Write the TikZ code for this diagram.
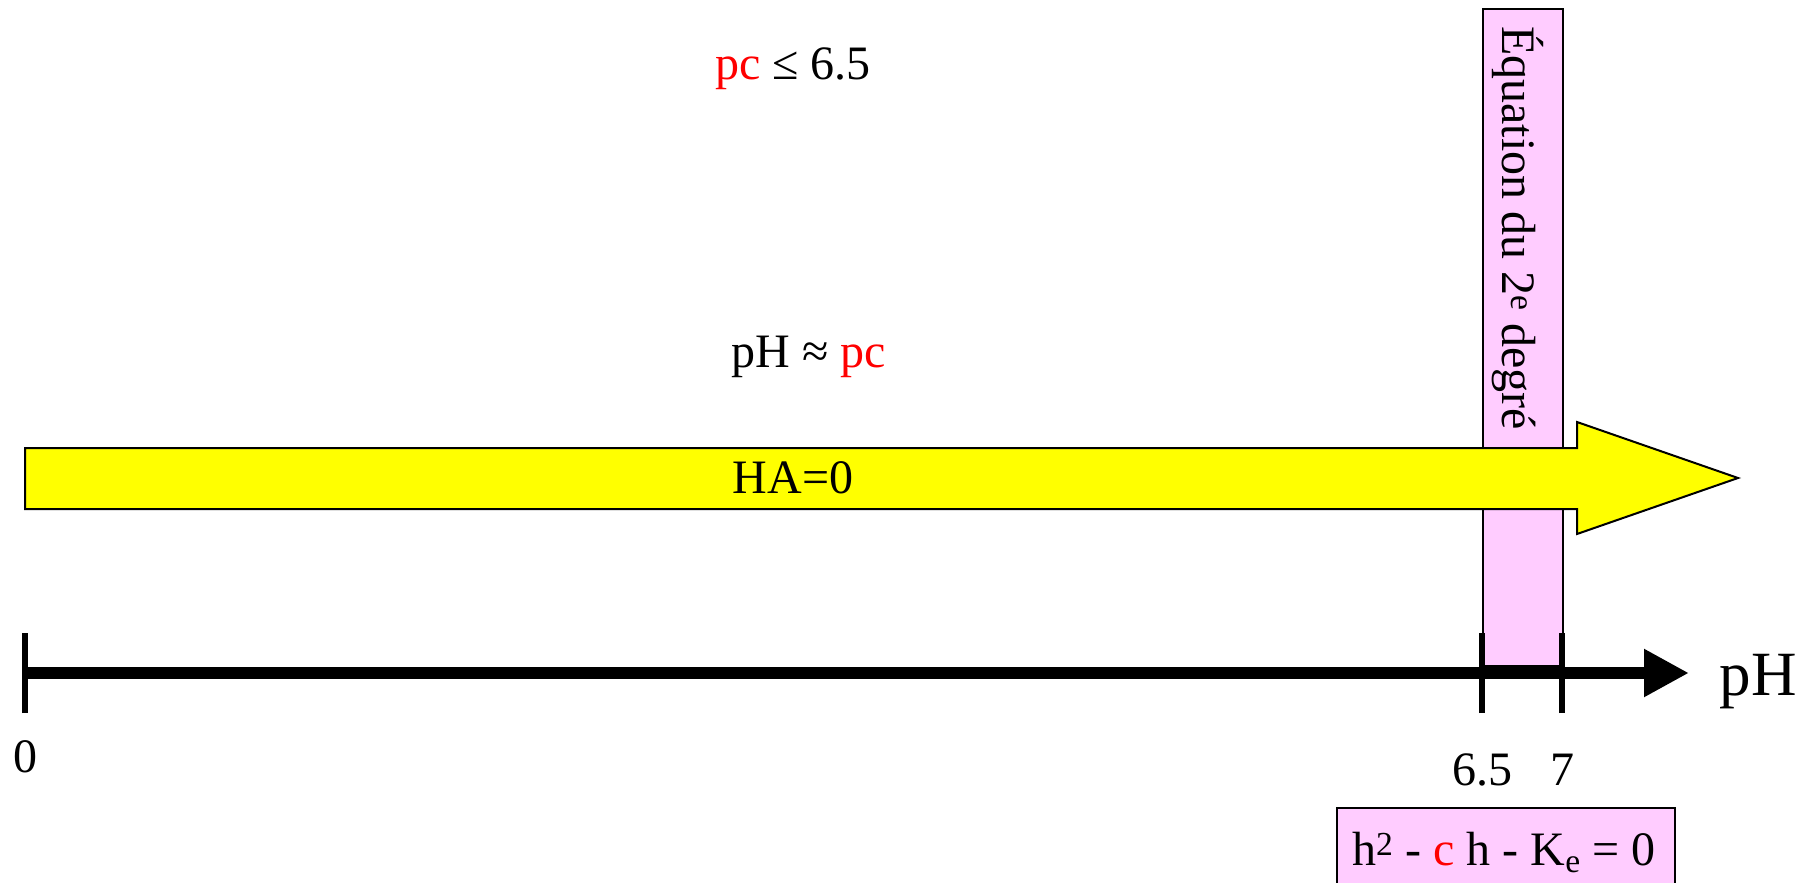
\documentclass[tikz,border=0pt]{standalone}
\usepackage{fontspec}
\setmainfont{Liberation Serif}
\usetikzlibrary{arrows.meta}
\definecolor{pinkc}{RGB}{255,204,255}
\definecolor{yellowc}{RGB}{255,255,0}
\definecolor{redc}{RGB}{255,0,0}
\begin{document}
\begin{tikzpicture}[x=1pt,y=-1pt,
  txt/.style={inner sep=0pt,font=\fontsize{48}{58}\selectfont},
  bigtxt/.style={inner sep=0pt,font=\fontsize{63}{75}\selectfont},
  pinkbox/.style={draw=black,line width=2pt,fill=pinkc},
  tick/.style={line width=6pt}]
\useasboundingbox (0,0) rectangle (1816,883);
\clip (0,0) rectangle (1816,883);
% vertical pink box
\node (vbox) [pinkbox, inner sep=0pt, minimum width=80pt, minimum height=657pt, anchor=north west] at (1482,8) {};
\node (vtext) [txt, rotate=-90] at (1518,228) {Équation du 2\textsuperscript{e} degré};
% yellow arrow
\draw[line width=2pt, fill=yellowc, line join=miter] (25,448) -- (1577,448) -- (1577,422) -- (1738,478) -- (1577,534) -- (1577,509) -- (25,509) -- cycle;
\node (ha) [txt] at (793,478) {HA=0};
% texts
\node (pc) [txt, anchor=base] at (793,80) {\textcolor{redc}{pc} ≤ 6.5};
\node (phpc) [txt, anchor=base] at (809,367) {pH ≈ \textcolor{redc}{pc}};
% axis
\coordinate (a0) at (25,673);
\coordinate (a65) at (1482,673);
\coordinate (a7) at (1562,673);
\coordinate (aend) at (1689,673);
\draw[line width=12pt, -{Triangle[length=45pt,width=45pt]}] (a0) -- (aend);
\draw[tick] ([yshift=-40pt]a0) -- ([yshift=40pt]a0);
\draw[tick] ([yshift=-40pt]a65) -- ([yshift=40pt]a65);
\draw[tick] ([yshift=-40pt]a7) -- ([yshift=40pt]a7);
\node (ph) [bigtxt] at (1758,682) {pH};
\node (l0) [txt] at (25,757) {0};
\node (l65) [txt] at (1482,770) {6.5};
\node (l7) [txt] at (1562,770) {7};
% bottom box
\node (ebox) [pinkbox, inner sep=0pt, minimum width=338pt, minimum height=100pt, anchor=north west] at (1336,807) {};
\node (eq) [txt, anchor=base] at (1504,865) {h\textsuperscript{2} - \textcolor{redc}{c} h - K\textsubscript{e} = 0};
\end{tikzpicture}
\end{document}
